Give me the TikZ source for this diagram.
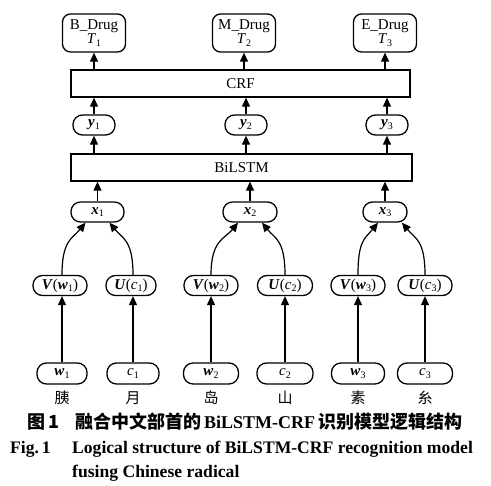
\documentclass[tikz,border=0pt]{standalone}
\usepackage{fontspec}
\setmainfont{Liberation Serif}
\newfontfamily\cjk{Noto Sans CJK SC}
\usetikzlibrary{arrows.meta,calc}
\newcommand\bi[1]{\textbf{\textit{#1}}}
\newcommand\sbs[1]{\raisebox{-0.4ex}{\fontsize{10}{10}\selectfont #1}}
\begin{document}
\begin{tikzpicture}[x=1pt,y=-1pt,
  box/.style={draw,line width=1.3pt,inner sep=0pt,font=\fontsize{15}{16}\selectfont},
  tbox/.style={box,rounded corners=8pt,minimum width=63pt,minimum height=38pt,align=center},
  wide/.style={box,minimum height=27pt},
  pill/.style={box,rounded corners=9.5pt,minimum height=20pt},
  lbl/.style={inner sep=0pt,font=\cjk\fontsize{15}{16}\selectfont},
  arr/.style={line width=1.2pt,-{Triangle[length=9pt,width=8pt]}},
  captxt/.style={inner sep=0pt,anchor=west,font=\bfseries\fontsize{17.6}{19}\selectfont}]
\useasboundingbox (0,0) rectangle (491,486);
% top
\node[tbox] (T1) at (94,33) {B\_Drug\\[-2pt]\textit{T}\sbs{1}};
\node[tbox] (T2) at (244,33) {M\_Drug\\[-2pt]\textit{T}\sbs{2}};
\node[tbox] (T3) at (385,33) {E\_Drug\\[-2pt]\textit{T}\sbs{3}};
\node[wide,minimum width=339pt] (crf) at (240.5,83.5) {CRF};
\node[pill,minimum width=42pt] (y1) at (94,125) {\bi{y}\sbs{1}};
\node[pill,minimum width=42pt] (y2) at (246,125) {\bi{y}\sbs{2}};
\node[pill,minimum width=42pt] (y3) at (387,125) {\bi{y}\sbs{3}};
\node[wide,minimum width=341pt] (bilstm) at (241.5,167.5) {BiLSTM};
\node[pill,minimum width=53pt] (x1) at (97.5,212) {\bi{x}\sbs{1}};
\node[pill,minimum width=54pt] (x2) at (250,212) {\bi{x}\sbs{2}};
\node[pill,minimum width=44pt] (x3) at (385,212) {\bi{x}\sbs{3}};
% second level
\node[pill,minimum width=54pt] (V1) at (60,285.5) {\bi{V}(\bi{w}\sbs{1})};
\node[pill,minimum width=50pt] (U1) at (131,285.5) {\bi{U}(\textit{c}\sbs{1})};
\node[pill,minimum width=54pt] (V2) at (211,285.5) {\bi{V}(\bi{w}\sbs{2})};
\node[pill,minimum width=55pt] (U2) at (285,285.5) {\bi{U}(\textit{c}\sbs{2})};
\node[pill,minimum width=54pt] (V3) at (358,285.5) {\bi{V}(\bi{w}\sbs{3})};
\node[pill,minimum width=54pt] (U3) at (425,285.5) {\bi{U}(\textit{c}\sbs{3})};
% bottom
\node[pill,minimum width=50pt,minimum height=21pt] (w1) at (62,373.5) {\bi{w}\sbs{1}};
\node[pill,minimum width=52pt,minimum height=21pt] (c1) at (133,373.5) {\textit{c}\sbs{1}};
\node[pill,minimum width=55pt,minimum height=21pt] (w2) at (211,373.5) {\bi{w}\sbs{2}};
\node[pill,minimum width=56pt,minimum height=21pt] (c2) at (285,373.5) {\textit{c}\sbs{2}};
\node[pill,minimum width=53pt,minimum height=21pt] (w3) at (358,373.5) {\bi{w}\sbs{3}};
\node[pill,minimum width=55pt,minimum height=21pt] (c3) at (425,373.5) {\textit{c}\sbs{3}};
\node[lbl] (h1) at (62,398) {胰};
\node[lbl] (h2) at (133,398) {月};
\node[lbl] (h3) at (211,398) {岛};
\node[lbl] (h4) at (285,398) {山};
\node[lbl] (h5) at (358,398) {素};
\node[lbl] (h6) at (425,398) {糸};
% vertical arrows
\draw[arr] (crf.north -| T1) -- (T1.south);
\draw[arr] (crf.north -| T2) -- (T2.south);
\draw[arr] (crf.north -| T3) -- (T3.south);
\draw[arr] (y1) -- (y1 |- crf.south);
\draw[arr] (y2) -- (y2 |- crf.south);
\draw[arr] (y3) -- (y3 |- crf.south);
\draw[arr] (bilstm.north -| y1) -- (y1.south);
\draw[arr] (bilstm.north -| y2) -- (y2.south);
\draw[arr] (bilstm.north -| y3) -- (y3.south);
\draw[arr] (x1.north) -- (x1 |- bilstm.south);
\draw[arr] (x2.north) -- (x2 |- bilstm.south);
\draw[arr] (x3.north) -- (x3 |- bilstm.south);
\foreach \a/\b in {w1/V1,w2/V2,w3/V3}{
  \draw[arr] (\a.north) -- (\a |- \b.south);}
\draw[arr] (c1.north) -- (c1 |- U1.south);
\draw[arr] (c2.north) -- (c2 |- U2.south);
\draw[arr] (c3.north) -- (c3 |- U3.south);
% curves
\draw[arr] (V1.north -| w1) .. controls +(0,-35) and +(-13,16) .. ($(x1.south)+(-12,0)$);
\draw[arr] (U1.north -| c1) .. controls +(0,-35) and +(13,16) .. ($(x1.south)+(12,0)$);
\draw[arr] (V2.north) .. controls +(0,-35) and +(-13,16) .. ($(x2.south)+(-12,0)$);
\draw[arr] (U2.north) .. controls +(0,-35) and +(13,16) .. ($(x2.south)+(12,0)$);
\draw[arr] (V3.north) .. controls +(0,-35) and +(-13,16) .. ($(x3.south)+(-7,0)$);
\draw[arr] (U3.north) .. controls +(0,-35) and +(13,16) .. ($(x3.south)+(17,0)$);
% caption
\node[captxt,font=\cjk\bfseries\fontsize{18}{19}\selectfont] (c1a) at (27,422) {图\,1};
\node[captxt,font=\cjk\bfseries\fontsize{18}{19}\selectfont] (c1b) at (75,422) {融合中文部首的\,{\rmfamily\bfseries BiLSTM-CRF}\,识别模型逻辑结构};
\node[captxt] (c2a) at (10,449) {Fig.\,1};
\node[captxt] (c2b) at (72,449) {Logical structure of BiLSTM-CRF recognition model};
\node[captxt] (c3) at (72,473) {fusing Chinese radical};
\end{tikzpicture}
\end{document}
